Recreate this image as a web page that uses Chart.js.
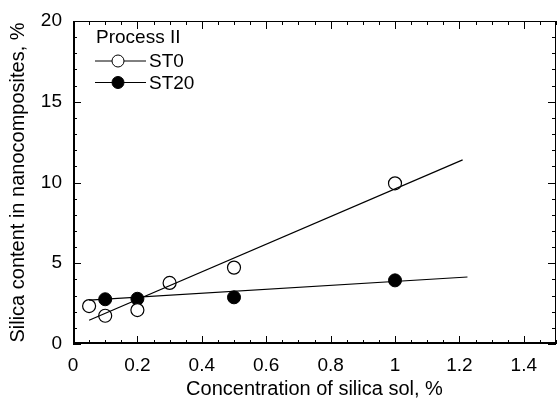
<!DOCTYPE html>
<html><head><meta charset="utf-8">
<script src="https://cdn.jsdelivr.net/npm/chart.js@4"></script>
<style>html,body{margin:0;padding:0;background:#fff}#wrap{width:557px;height:399px}</style>
</head><body><div id="wrap"><canvas id="c" width="557" height="399"></canvas></div>
<script>
const st0X = [0.05, 0.1, 0.2, 0.3, 0.5, 1.0];
const st0Y = [2.35, 1.75, 2.1, 3.78, 4.73, 9.95];
const st20X = [0.1, 0.2, 0.5, 1.0];
const st20Y = [2.77, 2.8, 2.89, 3.94];
const st0FitX = [0.05, 1.21];
const st0FitY = [1.47, 11.4];
const st20FitX = [0.05, 1.225];
const st20FitY = [2.72, 4.15];
const xTickLabels = [0, 0.2, 0.4, 0.6, 0.8, 1, 1.2, 1.4];
const yTickLabels = [0, 5, 10, 15, 20];
const legendTitle = 'Process II';
const seriesNames = ['ST0', 'ST20'];

const pts = (xs, ys) => xs.map((x, i) => ({x, y: ys[i]}));
const FONT = '"Liberation Sans", Arial, sans-serif';

const framePlugin = {
  id: 'frame',
  afterDraw(chart) {
    const {ctx, chartArea: a, scales: {x, y}} = chart;
    ctx.save();
    ctx.strokeStyle = '#000';
    ctx.lineWidth = 1;
    ctx.strokeRect(a.left + 0.5, a.top + 0.5, a.right - a.left - 1, a.bottom - a.top - 1);
    ctx.lineWidth = 2;
    ctx.beginPath();
    ctx.moveTo(a.left + 1, a.top); ctx.lineTo(a.left + 1, a.bottom);
    ctx.moveTo(a.left, a.bottom - 1); ctx.lineTo(a.right, a.bottom - 1);
    ctx.stroke();
    ctx.lineWidth = 1;
    ctx.beginPath();
    for (let v = 0; v <= 1.5001; v += 0.05) {
      const px = Math.round(x.getPixelForValue(v)) + 0.5;
      const major = Math.abs(v / 0.2 - Math.round(v / 0.2)) < 1e-6;
      const len = major ? 8 : 4;
      ctx.moveTo(px, a.bottom); ctx.lineTo(px, a.bottom - len);
      ctx.moveTo(px, a.top); ctx.lineTo(px, a.top + len);
    }
    for (let v = 0; v <= 20; v += 1) {
      const py = Math.round(y.getPixelForValue(v)) + 0.5;
      const len = (v % 5 === 0) ? 8 : 4;
      ctx.moveTo(a.left, py); ctx.lineTo(a.left + len, py);
      ctx.moveTo(a.right, py); ctx.lineTo(a.right - len, py);
    }
    ctx.stroke();
    // legend
    ctx.fillStyle = '#000';
    ctx.font = '19px ' + FONT;
    ctx.textBaseline = 'middle';
    ctx.textAlign = 'left';
    ctx.fillText(legendTitle, 96, 38);
    const rows = [{y: 61, fill: '#fff'}, {y: 82.5, fill: '#000'}];
    rows.forEach((r, i) => {
      ctx.beginPath();
      ctx.moveTo(95, r.y); ctx.lineTo(146, r.y); ctx.stroke();
      ctx.beginPath();
      ctx.arc(118, r.y, 6, 0, Math.PI * 2);
      ctx.fillStyle = r.fill; ctx.fill(); ctx.stroke();
      ctx.fillStyle = '#000';
      ctx.fillText(seriesNames[i], 149, r.y + 1);
    });
    ctx.restore();
  }
};

new Chart(document.getElementById('c'), {
  type: 'scatter',
  data: {
    datasets: [
      {label: 'ST0 fit', data: pts(st0FitX, st0FitY), showLine: true, borderColor: '#000', borderWidth: 1.2, pointRadius: 0},
      {label: 'ST20 fit', data: pts(st20FitX, st20FitY), showLine: true, borderColor: '#000', borderWidth: 1.2, pointRadius: 0},
      {label: seriesNames[0], data: pts(st0X, st0Y), pointRadius: 6.5, pointBackgroundColor: '#fff', pointBorderColor: '#000', pointBorderWidth: 1.2},
      {label: seriesNames[1], data: pts(st20X, st20Y), pointRadius: 6.5, pointBackgroundColor: '#000', pointBorderColor: '#000', pointBorderWidth: 1}
    ]
  },
  options: {
    responsive: false,
    animation: false,
    layout: {autoPadding: false, padding: {top: 21, right: 1, left: 0, bottom: 0}},
    plugins: {legend: {display: false}, tooltip: {enabled: false}},
    scales: {
      x: {
        type: 'linear', min: 0, max: 1.5,
        grid: {display: false, drawTicks: false},
        border: {display: false},
        afterBuildTicks: s => { s.ticks = xTickLabels.map(v => ({value: v})); },
        afterFit: s => { s.height = 55; s.paddingLeft = 0; s.paddingRight = 0; },
        ticks: {color: '#000', font: {family: FONT, size: 19}, padding: 10, maxRotation: 0,
          callback: v => String(+v.toFixed(1))},
        title: {display: true, text: 'Concentration of silica sol, %', color: '#000', font: {family: FONT, size: 20, lineHeight: 1.0}, padding: {top: 0, bottom: 0}}
      },
      y: {
        type: 'linear', min: 0, max: 20,
        grid: {display: false, drawTicks: false},
        border: {display: false},
        afterBuildTicks: s => { s.ticks = yTickLabels.map(v => ({value: v})); },
        afterFit: s => { s.width = 73; s.paddingTop = 0; s.paddingBottom = 0; },
        ticks: {color: '#000', font: {family: FONT, size: 19}, padding: 11},
        title: {display: true, text: 'Silica content in nanocomposites, %', color: '#000', font: {family: FONT, size: 20, lineHeight: 1.8}, padding: {top: 0, bottom: 0}}
      }
    }
  },
  plugins: [framePlugin]
});
</script></body></html>
